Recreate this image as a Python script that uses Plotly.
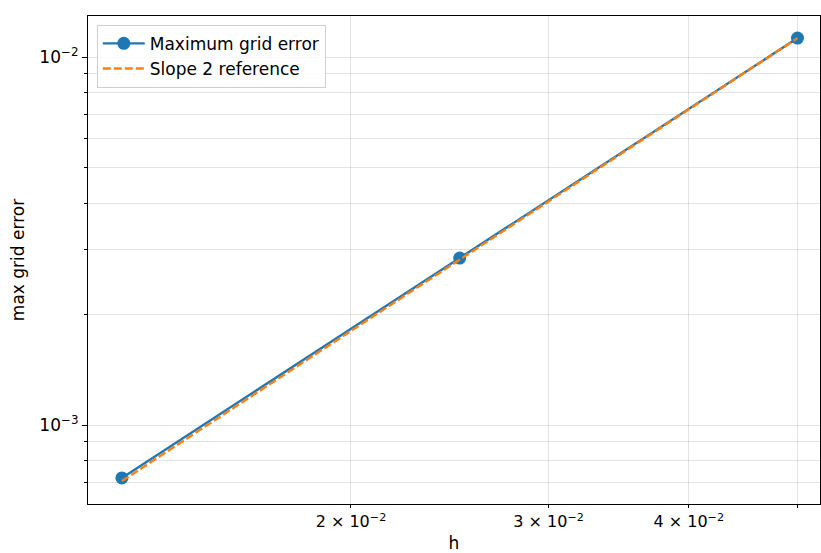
import numpy as np
import plotly.graph_objects as go

h = [0.0125, 0.025, 0.05]
max_err = [0.000718, 0.002843, 0.01126]
ref_err = [0.000704, 0.002815, 0.01126]

x_ticks = [0.02, 0.03, 0.04, 0.05]
x_ticktext = ["2 × 10<sup>−2</sup>", "3 × 10<sup>−2</sup>", "4 × 10<sup>−2</sup>", ""]
y_major = [0.001, 0.01]
y_major_text = ["10<sup>−3</sup>", "10<sup>−2</sup>"]
y_minor = [7e-4, 8e-4, 9e-4, 2e-3, 3e-3, 4e-3, 5e-3, 6e-3, 7e-3, 8e-3, 9e-3]

font = "DejaVu Sans"
grid = "rgba(176,176,176,0.35)"

fig = go.Figure()
fig.add_trace(go.Scatter(x=h, y=max_err, mode="lines+markers", name="Maximum grid error",
                         line=dict(color="#1f77b4", width=2.4),
                         marker=dict(color="#1f77b4", size=13)))
fig.add_trace(go.Scatter(x=h, y=ref_err, mode="lines", name="Slope 2 reference",
                         line=dict(color="#ff7f0e", width=2.4, dash="8px,3px")))

fig.update_layout(
    width=821, height=553,
    margin=dict(l=88, r=1, t=16, b=49),
    paper_bgcolor="white", plot_bgcolor="white",
    font=dict(family=font, size=17, color="black"),
    showlegend=True,
    legend=dict(x=0.012, y=0.982, xanchor="left", yanchor="top",
                bgcolor="rgba(255,255,255,0.8)", bordercolor="#d0d0d0", borderwidth=1,
                font=dict(size=17), tracegroupgap=0, itemwidth=42),
    xaxis=dict(type="log", range=[np.log10(0.01166), np.log10(0.05236)],
               tickmode="array", tickvals=x_ticks, ticktext=x_ticktext,
               ticks="outside", ticklen=3, tickcolor="black",
               tickfont=dict(size=16),
               showgrid=True, gridcolor=grid, gridwidth=1,
               showline=True, linecolor="black", linewidth=1.2, mirror=True,
               zeroline=False,
               title=dict(text="h", standoff=9, font=dict(size=17))),
    yaxis=dict(type="log", range=[np.log10(0.00061), np.log10(0.01293)],
               tickmode="array", tickvals=y_major, ticktext=y_major_text,
               ticks="outside", ticklen=5, tickcolor="black",
               tickfont=dict(size=17),
               showgrid=True, gridcolor=grid, gridwidth=1,
               showline=True, linecolor="black", linewidth=1.2, mirror=True,
               zeroline=False,
               minor=dict(tickmode="array", tickvals=y_minor, ticks="outside", ticklen=3,
                          tickcolor="black", showgrid=True, gridcolor=grid, gridwidth=1),
               title=dict(text="max grid error", standoff=10, font=dict(size=17))),
)

fig.write_html("out.html")
